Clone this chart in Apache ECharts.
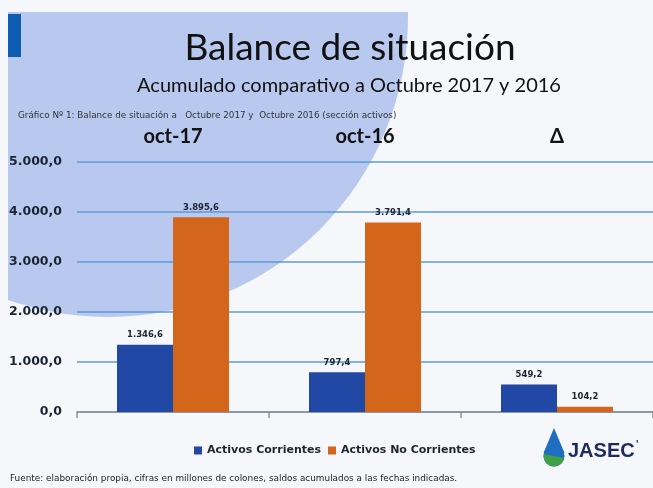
<!DOCTYPE html>
<html>
<head>
<meta charset="utf-8">
<title>Balance de situación</title>
<script src="https://cdn.jsdelivr.net/npm/echarts@6/dist/echarts.min.js"></script>
<style>
	html,body{margin:0;padding:0;background:#f6f7fa;}
	#chart{width:653px;height:488px;}
</style>
</head>
<body>
<div id="chart"></div>
<script>
	// datos del gráfico (millones de colones)
	var categories = ['oct-17', 'oct-16', 'Δ'];
	var seriesNames = ['Activos Corrientes', 'Activos No Corrientes'];
	var corrientes = [1346.6, 797.4, 549.2];
	var noCorrientes = [3895.6, 3791.4, 104.2];

	// 1346.6 -> "1.346,6"
	function fmt(v){
		var parts = Number(v).toFixed(1).split('.');
		return parts[0].replace(/\B(?=(\d{3})+(?!\d))/g, '.') + ',' + parts[1];
	}

	var chart = echarts.init(document.getElementById('chart'));
	chart.setOption({
		backgroundColor: '#f6f7fa',
		textStyle: {fontFamily: 'Lato'},
		graphic: [
			// fondo: círculo celeste de la diapositiva
			{type: 'circle', z: -10, shape: {cx: 108, cy: 17, r: 300}, style: {fill: '#b9c8ee'}},
			{type: 'rect', z: -9, shape: {x: 0, y: 0, width: 653, height: 12}, style: {fill: '#f6f7fa'}},
			{type: 'rect', z: -9, shape: {x: 0, y: 0, width: 8, height: 488}, style: {fill: '#f6f7fa'}},
			{type: 'rect', z: -8, shape: {x: 8, y: 14, width: 13, height: 43}, style: {fill: '#0d5bb3'}},
			{type: 'text', x: 350, y: 30, style: {
				text: 'Balance de situación', font: '37px Lato', fill: '#111', textAlign: 'center'}},
			{type: 'text', x: 349, y: 76, style: {
				text: 'Acumulado comparativo a Octubre 2017 y 2016', font: '20px Lato', fill: '#111', textAlign: 'center'}},
			{type: 'text', x: 18, y: 111, style: {
				text: 'Gráfico Nº 1: Balance de situación a   Octubre 2017 y  Octubre 2016 (sección activos)',
				font: '8.8px "DejaVu Sans"', fill: '#333'}},
			{type: 'text', x: 10, y: 474, style: {
				text: 'Fuente: elaboración propia, cifras en millones de colones, saldos acumulados a las fechas indicadas.',
				font: '8.9px "DejaVu Sans"', fill: '#222'}},
			// logo JASEC: gota azul / verde
			{type: 'polygon', z: 50, shape: {points: [[554, 428], [543.5, 453], [564.5, 453]]}, style: {fill: '#1f6ec4'}},
			{type: 'circle', z: 50, shape: {cx: 554, cy: 456, r: 10.5}, style: {fill: '#1f6ec4'}},
			{type: 'sector', z: 51, shape: {cx: 554, cy: 456, r0: 0, r: 10.5, startAngle: 0.2, endAngle: Math.PI + 0.2}, style: {fill: '#3fa048'}},
			{type: 'text', z: 50, x: 568, y: 441, style: {
				text: 'JASEC', font: 'bold 20px "Liberation Sans"', fill: '#1e2b5c'}},
			{type: 'text', z: 50, x: 636, y: 440, style: {
				text: '\'', font: 'bold 10px "Liberation Sans"', fill: '#1e2b5c'}}
		],
		grid: {left: 77, right: -7, top: 162, bottom: 76},
		legend: {
			data: seriesNames,
			left: 189, top: 440,
			icon: 'rect', itemWidth: 8, itemHeight: 8, itemGap: 7,
			textStyle: {fontFamily: 'DejaVu Sans', fontSize: 11, fontWeight: 'bold', color: '#1c2433'}
		},
		xAxis: [
			{
				type: 'category', data: categories, position: 'bottom',
				axisLine: {lineStyle: {color: '#8c919b', width: 1.5}},
				axisTick: {show: true, length: 6, lineStyle: {color: '#8c919b', width: 1.5}},
				axisLabel: {show: false}
			},
			{
				type: 'category', data: categories, position: 'top',
				axisLine: {show: false}, axisTick: {show: false},
				axisLabel: {show: true, margin: 15, fontFamily: 'Lato', fontWeight: 'bold', fontSize: 20, color: '#111'}
			}
		],
		yAxis: {
			type: 'value', min: 0, max: 5000, interval: 1000,
			axisLine: {show: false}, axisTick: {show: false},
			splitLine: {lineStyle: {color: '#5b9bd5', width: 1.5}},
			axisLabel: {formatter: fmt, margin: 15, fontFamily: 'DejaVu Sans', fontWeight: 'bold', fontSize: 12.5, color: '#1a2433'}
		},
		series: [
			{
				name: seriesNames[0], type: 'bar', data: corrientes,
				barWidth: 56, barGap: '0%',
				itemStyle: {color: '#2248a6'},
				label: {show: true, position: 'top', distance: 5, formatter: function(p){ return fmt(p.value); },
					fontFamily: 'DejaVu Sans', fontWeight: 'bold', fontSize: 8.5, color: '#1c2433'}
			},
			{
				name: seriesNames[1], type: 'bar', data: noCorrientes,
				barWidth: 56, barGap: '0%',
				itemStyle: {color: '#d4661c'},
				label: {show: true, position: 'top', distance: 5, formatter: function(p){ return fmt(p.value); },
					fontFamily: 'DejaVu Sans', fontWeight: 'bold', fontSize: 8.5, color: '#1c2433'}
			}
		]
	});
</script>
</body>
</html>
